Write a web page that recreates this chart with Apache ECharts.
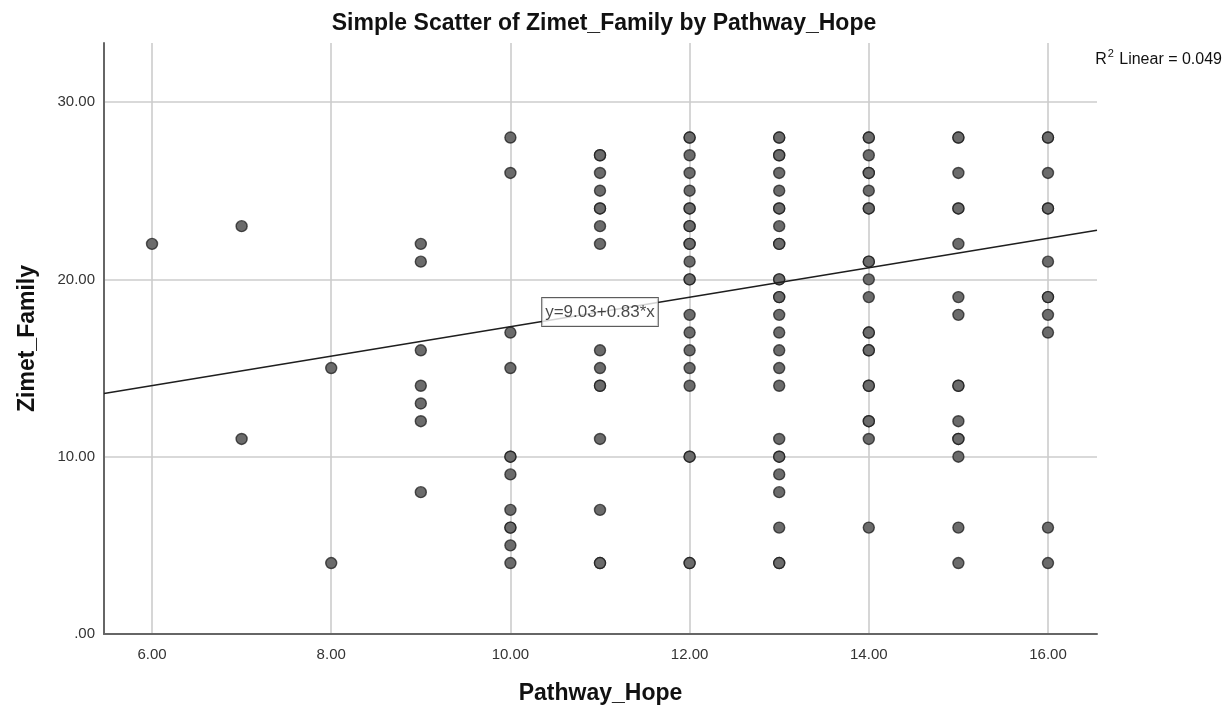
<!DOCTYPE html>
<html>
<head>
<meta charset="utf-8">
<script src="https://cdn.jsdelivr.net/npm/echarts@6/dist/echarts.min.js"></script>
<style>
  html, body { margin: 0; padding: 0; background: #fff; }
  #chart { width: 1227px; height: 713px; }
</style>
</head>
<body>
<div id="chart"></div>
<script>
// Observations: Pathway_Hope (x) and Zimet_Family (y), one entry per case
const pathwayHope = [
  6,
  7, 7,
  8, 8,
  9, 9, 9, 9, 9, 9, 9,
  10, 10, 10, 10, 10, 10, 10, 10, 10, 10, 10, 10,
  11, 11, 11, 11, 11, 11, 11, 11, 11, 11, 11, 11, 11, 11, 11, 11,
  12, 12, 12, 12, 12, 12, 12, 12, 12, 12, 12, 12, 12, 12, 12, 12, 12, 12, 12, 12, 12, 12, 12,
  13, 13, 13, 13, 13, 13, 13, 13, 13, 13, 13, 13, 13, 13, 13, 13, 13, 13, 13, 13, 13, 13, 13, 13, 13, 13, 13, 13,
  14, 14, 14, 14, 14, 14, 14, 14, 14, 14, 14, 14, 14, 14, 14, 14, 14, 14, 14, 14, 14, 14,
  15, 15, 15, 15, 15, 15, 15, 15, 15, 15, 15, 15, 15, 15, 15, 15,
  16, 16, 16, 16, 16, 16, 16, 16, 16, 16, 16, 16
];
const zimetFamily = [
  22,
  23, 11,
  15, 4,
  22, 21, 16, 14, 13, 12, 8,
  28, 26, 17, 15, 10, 10, 9, 7, 6, 6, 5, 4,
  27, 27, 26, 25, 24, 24, 23, 22, 16, 15, 14, 14, 11, 7, 4, 4,
  28, 28, 27, 26, 25, 24, 24, 23, 23, 22, 22, 21, 20, 20, 18, 17, 16, 15, 14, 10, 10, 4, 4,
  28, 28, 27, 27, 26, 25, 24, 24, 23, 22, 22, 20, 20, 19, 19, 18, 17, 16, 15, 14, 11, 10, 10, 9, 8, 6, 4, 4,
  28, 28, 27, 26, 26, 25, 24, 24, 21, 21, 20, 19, 17, 17, 16, 16, 14, 14, 12, 12, 11, 6,
  28, 28, 26, 24, 24, 22, 19, 18, 14, 14, 12, 11, 11, 10, 6, 4,
  28, 28, 26, 24, 24, 21, 19, 19, 18, 17, 6, 4
];

// Axis ticks
const xTicks = [6, 8, 10, 12, 14, 16];
const yTicks = [0, 10, 20, 30];

// Fit line: y = intercept + slope * x
const intercept = 9.03;
const slope = 0.83;
const rSquared = 0.049;

// Axis extents
const xMin = 5.464, xMax = 16.547;
const yMin = 0, yMax = 33.33;

const points = pathwayHope.map((x, i) => [x, zimetFamily[i]]);
const fitLine = [xMin, xMax].map(x => [x, intercept + slope * x]);
// equation box sits on the fit line
const eqX = 11.0;
const eqLabel = [[eqX, intercept + slope * eqX]];

const FONT = '"Liberation Sans", Arial, sans-serif';

const chart = echarts.init(document.getElementById('chart'), null, { renderer: 'canvas' });
chart.setOption({
  animation: false,
  backgroundColor: '#ffffff',
  title: [
    {
      text: 'Simple Scatter of Zimet_Family by Pathway_Hope',
      left: 604, top: 12, textAlign: 'center', padding: 0,
      textStyle: { fontFamily: FONT, fontSize: 23, fontWeight: 'bold', color: '#111' }
    },
    {
      text: '{base|R}{sup|2}{base| Linear = ' + rSquared.toFixed(3) + '}',
      right: 5, top: 48, padding: 0,
      textStyle: {
        fontFamily: FONT, fontSize: 16, fontWeight: 'normal', color: '#111',
        rich: {
          base: { fontFamily: FONT, fontSize: 16, lineHeight: 24, color: '#111' },
          sup: { fontFamily: FONT, fontSize: 11, lineHeight: 24, verticalAlign: 'top', color: '#111', padding: [0, 1, 0, 1] }
        }
      }
    }
  ],
  grid: { left: 104, right: 130, top: 43, bottom: 79 },
  xAxis: {
    type: 'value', min: xMin, max: xMax,
    name: 'Pathway_Hope', nameLocation: 'middle', nameGap: 48,
    nameTextStyle: { fontFamily: FONT, fontSize: 23, fontWeight: 'bold', color: '#111', verticalAlign: 'top' },
    axisLine: { show: true, onZero: false, lineStyle: { color: '#666', width: 2 } },
    axisTick: { show: false, customValues: xTicks },
    axisLabel: {
      customValues: xTicks, margin: 13,
      fontFamily: FONT, fontSize: 15, color: '#333',
      formatter: v => v.toFixed(2)
    },
    splitLine: { show: true, lineStyle: { color: '#cccccc', width: 1.6 } }
  },
  yAxis: {
    type: 'value', min: yMin, max: yMax,
    name: 'Zimet_Family', nameLocation: 'middle', nameGap: 65,
    nameTextStyle: { fontFamily: FONT, fontSize: 23, fontWeight: 'bold', color: '#111' },
    axisLine: { show: true, onZero: false, lineStyle: { color: '#666', width: 2 } },
    axisTick: { show: false, customValues: yTicks },
    axisLabel: {
      customValues: yTicks, margin: 9,
      fontFamily: FONT, fontSize: 15, color: '#333',
      formatter: v => (v === 0 ? '.00' : v.toFixed(2))
    },
    splitLine: { show: true, lineStyle: { color: '#cccccc', width: 1.6 } }
  },
  series: [
    {
      type: 'scatter',
      data: points,
      symbol: 'circle',
      symbolSize: 11,
      itemStyle: { color: '#6b6b6b', opacity: 1, borderColor: 'rgba(20,20,20,0.7)', borderWidth: 1.4 },
      z: 2
    },
    {
      type: 'line',
      data: fitLine,
      symbol: 'none',
      lineStyle: { color: '#1e1e1e', width: 1.5 },
      z: 3
    },
    {
      type: 'scatter',
      data: eqLabel,
      symbolSize: 0,
      silent: true,
      z: 10,
      label: {
        show: true, position: 'inside',
        formatter: 'y=' + intercept.toFixed(2) + '+' + slope.toFixed(2) + '*x',
        fontFamily: FONT, fontSize: 17, color: '#1a1a1a',
        backgroundColor: '#fff', borderColor: '#333', borderWidth: 1,
        padding: [6, 3, 5, 3]
      }
    }
  ]
});
</script>
</body>
</html>
